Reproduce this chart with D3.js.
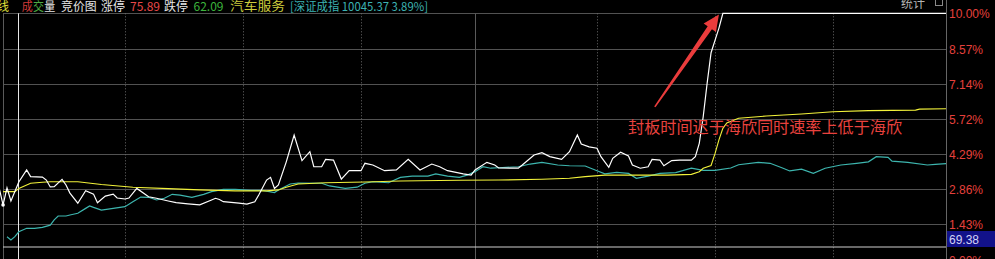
<!DOCTYPE html>
<html>
<head>
<meta charset="utf-8">
<script src="https://cdn.jsdelivr.net/npm/d3@7"></script>
<style>
html, body { margin: 0; padding: 0; background: #000; overflow: hidden; }
svg { display: block; }
</style>
</head>
<body>
<svg id="chart" width="995" height="259"></svg>
<script>
// 分时: minutes after 9:30 and % change (negative minutes = 竞价)
const priceMin = [-2, -1, 0, 1, 3, 5, 6, 9, 10, 11, 12, 14, 15, 16, 18, 20, 22, 23, 25, 27, 28, 30, 31, 33, 36, 38, 41, 43, 46, 49,
  52, 53, 54, 55, 59, 61, 63, 64, 66, 67, 68, 69, 71, 73, 75, 77, 78, 80, 81, 83, 85, 87, 90, 91, 93, 96, 99, 102, 105, 108,
  110, 112, 116, 118, 119, 122, 124, 125, 130, 131, 134, 136, 138, 141, 143, 145, 146, 148, 150, 151, 153, 154, 156, 158, 159,
  161, 163, 164, 166, 167, 169, 171, 174, 175, 176, 177, 178, 179, 180, 181, 182, 240];
const pricePct = [2.91, 2.22, 2.91, 2.38, 3.15, 3.64, 3.37, 3.35, 3.23, 2.95, 2.96, 3.26, 3.03, 2.70, 2.29, 2.80, 2.66, 2.31, 2.58, 2.66, 2.50, 2.46, 2.50, 2.89, 2.55, 2.49, 2.38, 2.31, 2.26, 2.22,
  2.42, 2.49, 2.44, 2.35, 2.29, 2.25, 2.35, 2.62, 3.23, 3.34, 2.89, 3.03, 3.97, 5.06, 4.02, 4.38, 3.77, 3.77, 4.07, 4.04, 3.27, 3.61, 3.61, 3.91, 3.84, 3.61, 3.64, 4.07, 3.64, 3.88,
  3.77, 3.61, 3.48, 3.43, 3.64, 3.95, 3.84, 3.72, 3.71, 3.84, 4.25, 4.34, 4.18, 4.07, 4.38, 5.06, 4.69, 4.58, 4.52, 4.18, 3.75, 4.11, 4.36, 4.21, 3.84,
  3.71, 3.77, 4.07, 4.04, 3.81, 4.02, 4.04, 4.04, 4.18, 4.72, 5.80, 7.16, 8.40, 8.90, 9.40, 10.00, 10.00];

// 均价线
const avgMin = [-1, 2, 3, 6, 9, 11, 18, 24, 32, 41, 49, 58, 66, 69, 71, 74, 81, 91, 100, 115, 125, 136, 143, 147, 152, 168, 174,
  176, 177, 179, 180, 181, 182, 183, 186, 193, 202, 210, 219, 231, 232, 240];
const avgPct = [2.76, 2.76, 2.89, 3.10, 3.14, 3.16, 3.16, 3.05, 2.94, 2.88, 2.83, 2.79, 2.79, 2.83, 2.94, 3.07, 3.12, 3.15, 3.19, 3.22, 3.23, 3.26, 3.30, 3.37, 3.43, 3.43, 3.46,
  3.57, 3.71, 3.82, 4.30, 4.86, 5.33, 5.55, 5.74, 5.83, 5.91, 6.00, 6.05, 6.07, 6.11, 6.13];

// 对比线 (青色)
const refMin = [0, 1, 2, 3, 5, 7, 9, 11, 12, 13, 15, 16, 18, 20, 21, 22, 24, 27, 30, 32, 34, 36, 38, 40, 42, 44, 47, 50, 52, 55,
  58, 62, 65, 68, 69, 72, 74, 80, 82, 86, 89, 91, 93, 97, 100, 103, 107, 109, 112, 115, 117, 119, 121, 123, 125, 130, 133, 136, 140,
  143, 147, 150, 152, 155, 158, 160, 163, 166, 170, 174, 177, 180, 184, 186, 191, 194, 197, 199, 202, 205, 208, 212, 216, 219,
  221, 224, 225, 229, 234, 236, 240];
const refPct = [0.93, 0.80, 0.93, 1.13, 1.27, 1.27, 1.31, 1.40, 1.61, 1.77, 1.77, 1.81, 1.88, 2.08, 2.18, 2.12, 2.01, 2.08, 2.15, 2.35, 2.54, 2.53, 2.42, 2.49, 2.65, 2.62, 2.53, 2.65, 2.76, 2.85,
  2.85, 2.81, 2.81, 2.72, 2.83, 3.07, 3.11, 3.10, 2.99, 2.89, 2.94, 3.10, 3.16, 3.12, 3.34, 3.39, 3.39, 3.48, 3.39, 3.34, 3.43, 3.57, 3.77, 3.71, 3.73, 3.77, 3.88, 3.95, 3.84,
  3.81, 3.80, 3.61, 3.48, 3.54, 3.50, 3.30, 3.39, 3.50, 3.53, 3.71, 3.62, 3.62, 3.72, 3.85, 3.95, 3.91, 3.73, 3.60, 3.67, 3.50, 3.71, 3.84, 3.91, 3.97,
  4.18, 4.15, 4.00, 3.95, 3.84, 3.87, 3.91];

const pctTicks = [0, 1.43, 2.86, 4.29, 5.72, 7.14, 8.57, 10];
const gridMinutes = [30, 60, 90, 150, 180, 210];
const noonMinute = 120;
const cursorMinute = 2.8;
const lastValue = "69.38";

const note = "封板时间迟于海欣同时速率上低于海欣";
const noteAt = [157.9, 5.14];
const arrowTail = [164.7, 6.2];
const arrowTip = [181, 9.95];

const header = [
  {t: "线", c: "#e2e23c", x: -3, w: 12},
  {t: "成", c: "#d23a3a", x: 21.7, w: 11},
  {t: "交", c: "#4cac44", x: 33, w: 11},
  {t: "量", c: "#e6e6e6", x: 44.2, w: 11},
  {t: "竞价图", c: "#e6e6e6", x: 61, w: 35.7},
  {t: "涨停", c: "#e6e6e6", x: 101, w: 24},
  {t: "75.89", c: "#e84848", x: 130, w: 30},
  {t: "跌停", c: "#e6e6e6", x: 164, w: 24},
  {t: "62.09", c: "#3cb43c", x: 193.5, w: 30},
  {t: "汽车服务", c: "#cccc3c", x: 230, w: 55},
  {t: "[深证成指 10045.37 3.89%]", c: "#3cb2b2", x: 290, w: 138}
];

const W = 995, H = 259;
const plot = {left: 3, right: 946, top: 13.3, bottom: 259.6};

const x = d3.scaleLinear().domain([0, 240]).range([7, 951]);
const y = d3.scaleLinear().domain([0, 10]).range([plot.bottom, plot.top]);

const svg = d3.select("#chart");
svg.append("rect").attr("width", W).attr("height", H).attr("fill", "#000");

svg.append("defs").append("clipPath").attr("id", "plotClip")
  .append("rect").attr("x", 0).attr("y", 0).attr("width", plot.right).attr("height", H);

// horizontal grid
svg.append("g").selectAll("line")
  .data(pctTicks)
  .enter().append("line")
  .attr("x1", plot.left).attr("x2", plot.right)
  .attr("y1", d => Math.round(y(d)) + 0.5)
  .attr("y2", d => Math.round(y(d)) + 0.5)
  .attr("stroke", "#525252");

// vertical grid
svg.append("g").selectAll("line")
  .data(gridMinutes)
  .enter().append("line")
  .attr("x1", d => Math.round(x(d)) + 0.5).attr("x2", d => Math.round(x(d)) + 0.5)
  .attr("y1", plot.top).attr("y2", H)
  .attr("stroke", "#6a6a6a")
  .attr("stroke-dasharray", "1,2");

svg.append("line")
  .attr("x1", x(noonMinute) - 4 + 0.5).attr("x2", x(noonMinute) - 4 + 0.5)
  .attr("y1", plot.top).attr("y2", H)
  .attr("stroke", "#5a5a5a");

// left border + separator
svg.append("line").attr("x1", 3.5).attr("x2", 3.5).attr("y1", plot.top).attr("y2", H).attr("stroke", "#5a5a5a");
svg.append("line").attr("x1", plot.left).attr("x2", plot.right).attr("y1", 247).attr("y2", 247)
  .attr("stroke", "#cfcfcf");

// cursor
svg.append("line")
  .attr("x1", Math.round(x(cursorMinute)) + 0.5).attr("x2", Math.round(x(cursorMinute)) + 0.5)
  .attr("y1", plot.top).attr("y2", H)
  .attr("stroke", "#e8e8e8");

// right axis line
svg.append("line").attr("x1", 946.5).attr("x2", 946.5).attr("y1", 0).attr("y2", H).attr("stroke", "#666");

const line = d3.line().x(d => x(d[0])).y(d => y(d[1]));
const lines = svg.append("g").attr("clip-path", "url(#plotClip)");

lines.append("path")
  .datum(refMin.map((m, i) => [m, refPct[i]]))
  .attr("d", line).attr("fill", "none")
  .attr("stroke", "#3db5ae").attr("stroke-width", 1.2);

lines.append("path")
  .datum(avgMin.map((m, i) => [m, avgPct[i]]))
  .attr("d", line).attr("fill", "none")
  .attr("stroke", "#f2f23a").attr("stroke-width", 1.1);

lines.append("path")
  .datum(priceMin.map((m, i) => [m, pricePct[i]]))
  .attr("d", line).attr("fill", "none")
  .attr("stroke", "#ffffff").attr("stroke-width", 1.2);

lines.append("circle")
  .attr("cx", x(priceMin[1])).attr("cy", y(pricePct[1]))
  .attr("r", 1.8).attr("fill", "#fff");

// right axis labels
svg.append("g").selectAll("text")
  .data(pctTicks)
  .enter().append("text")
  .attr("x", 949)
  .attr("y", d => y(d) + 5)
  .attr("fill", "#e5403c")
  .attr("font-family", "Liberation Sans, Arial, sans-serif")
  .attr("font-size", 12)
  .text(d => d.toFixed(2) + "%");

svg.append("rect").attr("x", 947).attr("y", 231).attr("width", 48).attr("height", 16).attr("fill", "#12128a");
svg.append("text").attr("x", 949).attr("y", 243.5)
  .attr("fill", "#d2d2f6")
  .attr("font-family", "Liberation Sans, Arial, sans-serif")
  .attr("font-size", 12)
  .text(lastValue);

// header
svg.append("g").selectAll("text")
  .data(header)
  .enter().append("text")
  .attr("x", d => d.x)
  .attr("y", 10.5)
  .attr("fill", d => d.c)
  .attr("font-family", "Noto Sans CJK SC, sans-serif")
  .attr("font-size", 12)
  .attr("textLength", d => d.w)
  .attr("lengthAdjust", "spacingAndGlyphs")
  .text(d => d.t);

svg.append("text").attr("x", 901).attr("y", 8)
  .attr("fill", "#b4b4b4")
  .attr("font-family", "Noto Sans CJK SC, sans-serif")
  .attr("font-size", 12)
  .text("统计");
svg.append("rect").attr("x", 935.5).attr("y", -2.5).attr("width", 7).attr("height", 8)
  .attr("fill", "none").attr("stroke", "#8a8a8a");

// annotation
svg.append("text")
  .attr("x", x(noteAt[0])).attr("y", y(noteAt[1]))
  .attr("fill", "#e8423e")
  .attr("font-family", "Noto Sans CJK SC, sans-serif")
  .attr("font-size", 16)
  .attr("textLength", 274)
  .attr("lengthAdjust", "spacingAndGlyphs")
  .text(note);

const t0 = [x(arrowTail[0]), y(arrowTail[1])];
const t1 = [x(arrowTip[0]), y(arrowTip[1])];
const dx = t1[0] - t0[0], dy = t1[1] - t0[1];
const len = Math.hypot(dx, dy);
const ux = dx / len, uy = dy / len;
const px = -uy, py = ux;
const headLen = 16, headHalf = 7.5, tailHalf = 0.8, neckHalf = 2.6;
const bx = t1[0] - ux * headLen, by = t1[1] - uy * headLen;
const arrowPts = [
  [t0[0] + px * tailHalf, t0[1] + py * tailHalf],
  [bx + px * neckHalf, by + py * neckHalf],
  [bx + px * headHalf, by + py * headHalf],
  t1,
  [bx - px * headHalf, by - py * headHalf],
  [bx - px * neckHalf, by - py * neckHalf],
  [t0[0] - px * tailHalf, t0[1] - py * tailHalf]
];
svg.append("path")
  .attr("d", "M" + arrowPts.map(p => p.join(",")).join("L") + "Z")
  .attr("fill", "#ea3c3c");
</script>
</body>
</html>
